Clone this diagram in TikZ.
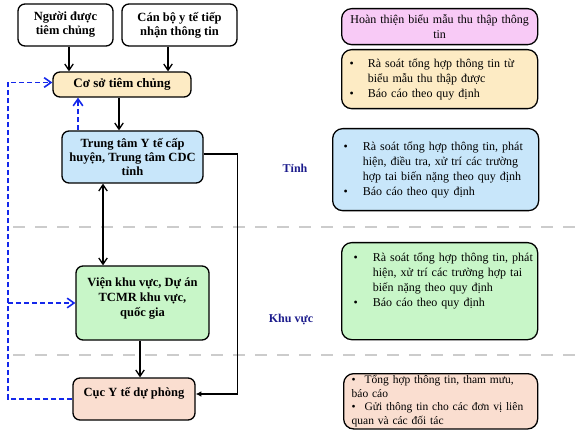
\documentclass[tikz,border=0pt]{standalone}
\usepackage{fontspec}
\setmainfont{Liberation Serif}
\usepackage{xcolor}
\usetikzlibrary{arrows.meta,positioning}

\definecolor{pinkfill}{RGB}{248,202,246}
\definecolor{beigefill}{RGB}{253,235,196}
\definecolor{bluefill}{RGB}{200,230,250}
\definecolor{greenfill}{RGB}{200,246,200}
\definecolor{salmonfill}{RGB}{250,222,208}
\definecolor{navytext}{RGB}{28,28,140}
\definecolor{dashblue}{RGB}{20,40,235}

\begin{document}
\begin{tikzpicture}[
    x=1pt, y=-1pt,
    lbox/.style={
        draw,
        line width=1.3pt,
        rounded corners=7pt,
        align=center,
        inner sep=2pt,
        font=\bfseries\fontsize{12.5}{14}\selectfont
    },
    rbox/.style={
        draw,
        line width=1.3pt,
        rounded corners=10pt,
        anchor=north west,
        align=left,
        inner ysep=2pt,
        font=\fontsize{12}{15}\selectfont
    },
    levellabel/.style={font=\bfseries\fontsize{12}{14}\selectfont, text=navytext},
    arrow/.style={-{Straight Barb[length=2.2mm,width=3mm]}, line width=1.3pt},
    dasharrow/.style={-{Straight Barb[length=2.4mm,width=3.4mm]}, draw=dashblue, line width=1.6pt, dash pattern=on 5pt off 3pt},
    sepline/.style={draw=gray!40, line width=2pt, dash pattern=on 12pt off 10pt}
]
\useasboundingbox (0,0) rectangle (575,443);

% left column
\node[lbox, minimum width=95pt, minimum height=42pt] (nguoi) at (65.5,25) {Người được\\tiêm chủng};
\node[lbox, minimum width=115pt, minimum height=42pt] (canbo) at (179.5,25) {Cán bộ y tế tiếp\\nhận thông tin};
\node[lbox, fill=beigefill, minimum width=138pt, minimum height=25pt, font=\bfseries\fontsize{13}{14}\selectfont] (coso) at (122,84.5) {Cơ sở tiêm chủng};
\node[lbox, fill=bluefill, minimum width=141pt, minimum height=52pt] (ttyt) at (132.5,157) {Trung tâm Y tế cấp\\huyện, Trung tâm CDC\\tỉnh};
\node[lbox, fill=greenfill, minimum width=133pt, minimum height=74pt, font=\bfseries\fontsize{12.5}{15}\selectfont] (vien) at (142.5,303) {Viện khu vực, Dự án\\TCMR khu vực,\\quốc gia\rule[-12pt]{0pt}{0pt}};
\node[lbox, fill=salmonfill, minimum width=122pt, minimum height=42pt] (cuc) at (134,399) {Cục Y tế dự phòng\rule[-14pt]{0pt}{0pt}};

% level labels
\node[levellabel] (tinh) at (295,168) {Tỉnh};
\node[levellabel] (khuvuc) at (291,320) {Khu vực};

% right column
\node[rbox, fill=pinkfill, inner xsep=8pt, text width=180pt, minimum height=36pt, align=center] (hoanthien) at (341,8) {Hoàn thiện biểu mẫu thu thập thông\\tin};
\node[rbox, fill=beigefill, inner xsep=8pt, text width=180pt, minimum height=59pt] (rasoatcs) at (341,49) {%
\begin{tabular}{@{}l@{\hspace{14pt}}l@{}}
\textbullet & Rà soát tổng hợp thông tin từ\\
 & biểu mẫu thu thập được\\
\textbullet & Báo cáo theo quy định
\end{tabular}};
\node[rbox, fill=bluefill, inner xsep=11pt, text width=184pt, minimum height=82pt] (rasoattinh) at (332,128) {%
\begin{tabular}{@{}l@{\hspace{15pt}}l@{}}
\textbullet & Rà soát tổng hợp thông tin, phát\\
 & hiện, điều tra, xử trí các trường\\
 & hợp tai biến nặng theo quy định\\
\textbullet & Báo cáo theo quy định
\end{tabular}};
\node[rbox, fill=greenfill, inner xsep=12pt, text width=172pt, minimum height=97pt] (rasoatkv) at (341,242) {%
\begin{tabular}{@{}l@{\hspace{15pt}}l@{}}
\textbullet & Rà soát tổng hợp thông tin, phát\\
 & hiện, xử trí các trường hợp tai\\
 & biến nặng theo quy định\\
\textbullet & Báo cáo theo quy định\rule[-24pt]{0pt}{0pt}
\end{tabular}};
\node[rbox, fill=salmonfill, inner xsep=8pt, text width=178pt, minimum height=55pt, font=\fontsize{11.5}{13.5}\selectfont] (tonghop) at (343,373) {%
\textbullet\hspace{9pt}Tổng hợp thông tin, tham mưu,\\
báo cáo\\
\textbullet\hspace{9pt}Gửi thông tin cho các đơn vị liên\\
quan và các đối tác};

% separators
\draw[sepline] (13,227) -- (575,227);
\draw[sepline] (13,355) -- (575,355);

% reporting arrows
\draw[arrow] ([xshift=3.5pt]nguoi.south) -- ([xshift=3.5pt]nguoi.south |- coso.north);
\draw[arrow] ([xshift=-11.5pt]canbo.south) -- ([xshift=-11.5pt]canbo.south |- coso.north);
\draw[arrow] ([xshift=-3pt]coso.south) -- ([xshift=-3pt]coso.south |- ttyt.north);
\draw[{Straight Barb[length=2.2mm,width=3mm]}-{Straight Barb[length=2.2mm,width=3mm]}, line width=1.3pt]
    ([xshift=-29.5pt]ttyt.south) -- ([xshift=-29.5pt]ttyt.south |- vien.north);
\draw[arrow] ([xshift=-2.5pt]vien.south) -- ([xshift=-2.5pt]vien.south |- cuc.north);
\draw[-{Latex[length=2mm,width=2mm]}, line width=1.1pt] ([yshift=3pt]ttyt.east) -- ++(34,0) |- ([yshift=5pt]cuc.east);

% feedback arrows
\coordinate (fbx) at (8,0);
\draw[dasharrow] ([xshift=-54.5pt]ttyt.north) -- ([xshift=-54.5pt]ttyt.north |- coso.south);
\draw[dasharrow] (cuc.west) -- (cuc.west -| fbx) |- ([yshift=2pt]coso.west);
\draw[dasharrow] (vien.west -| fbx) -- (vien.west);
\end{tikzpicture}
\end{document}
